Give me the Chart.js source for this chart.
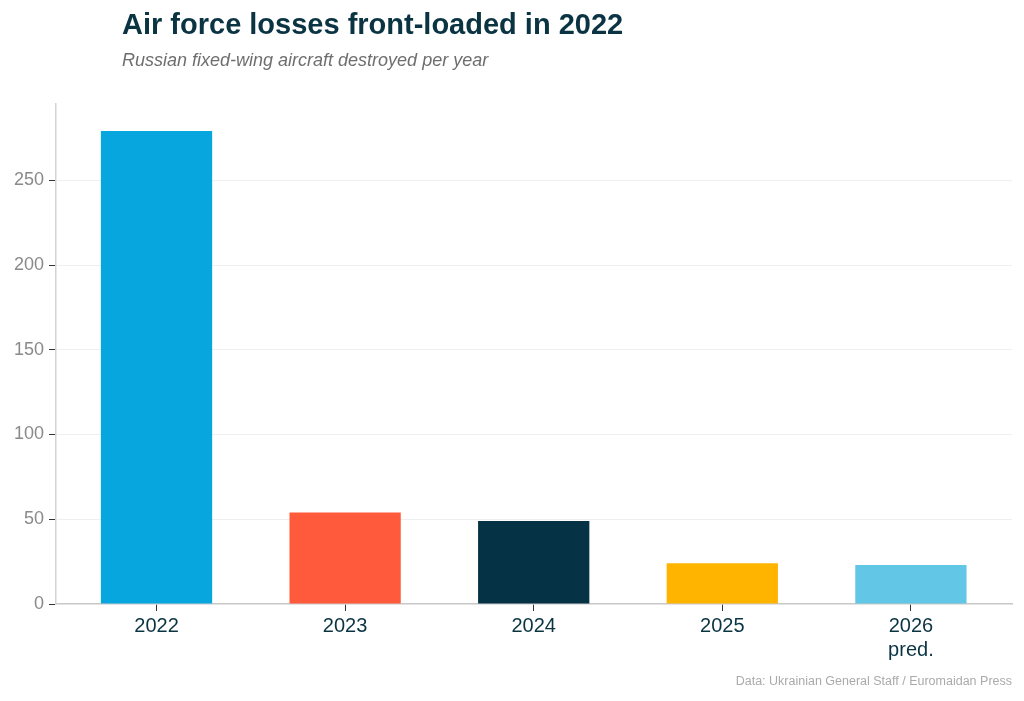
<!DOCTYPE html>
<html>
<head>
    <meta charset="utf-8">
    <title>Air force losses front-loaded in 2022</title>
    <script src="https://cdn.jsdelivr.net/npm/chart.js@4.4.1/dist/chart.umd.min.js"></script>
    <style>
        body {
            margin: 0;
            background: #fff;
            font-family: "Liberation Sans", Arial, sans-serif;
        }
        #wrap {
            position: relative;
            width: 1024px;
            height: 701px;
        }
        #title {
            position: absolute;
            left: 122px;
            top: 7px;
            font-size: 29px;
            font-weight: bold;
            color: #0b3443;
            line-height: 34px;
        }
        #subtitle {
            position: absolute;
            left: 122px;
            top: 49px;
            font-size: 18px;
            font-style: italic;
            color: #6e6e6e;
            line-height: 22px;
        }
        #source {
            position: absolute;
            right: 12px;
            top: 673px;
            font-size: 12.5px;
            color: #aaaaaa;
            line-height: 16px;
        }
        canvas {
            position: absolute;
            left: 0;
            top: 0;
        }
    </style>
</head>
<body>
<div id="wrap">
    <canvas id="myChart" width="1024" height="701"></canvas>
    <div id="title">Air force losses front-loaded in 2022</div>
    <div id="subtitle">Russian fixed-wing aircraft destroyed per year</div>
    <div id="source">Data: Ukrainian General Staff / Euromaidan Press</div>
</div>
<script>

const years = ['2022', '2023', '2024', '2025', ['2026', 'pred.']];
const destroyed = [279, 54, 49, 24, 23];
const barColors = ['#08a6df', '#ff5a3b', '#053244', '#ffb400', '#62c6e6'];
const yTicks = [0, 50, 100, 150, 200, 250];

const ctx = document.getElementById('myChart').getContext('2d');

// bars sit at 0..4 on a linear x axis, so the side margins match the original
const points = destroyed.map((v, i) => ({ x: i, y: v }));

const config = {
  type: 'bar',
  data: {
    datasets: [{
      label: 'Aircraft destroyed',
      data: points,
      backgroundColor: barColors,
      borderWidth: 0,
      categoryPercentage: 1.0,
      barPercentage: 0.59
    }]
  },
  options: {
    responsive: false,
    animation: false,
    layout: {
      padding: { top: 104, right: 12, left: 0, bottom: 0 }
    },
    plugins: {
      legend: { display: false },
      tooltip: { enabled: false }
    },
    scales: {
      x: {
        type: 'linear',
        min: -0.533,
        max: 4.536,
        offset: false,
        afterBuildTicks: function(scale) {
          scale.ticks = years.map((y, i) => ({ value: i }));
        },
        grid: {
          offset: false,
          drawOnChartArea: false,
          drawTicks: true,
          tickLength: 7,
          tickColor: '#333333'
        },
        border: { color: '#c8c8c8', width: 1.5 },
        ticks: {
          color: '#0b3443',
          font: { family: 'Liberation Sans', size: 20 },
          padding: 3,
          callback: function(value) { return years[value]; }
        },
        afterFit: function(scale) { scale.height = 97; }
      },
      y: {
        min: 0,
        max: 295,
        afterBuildTicks: function(scale) {
          scale.ticks = yTicks.map(v => ({ value: v }));
        },
        grid: {
          color: function(c) { return c.tick && c.tick.value === 0 ? 'rgba(0,0,0,0)' : '#efefef'; },
          tickColor: '#333333',
          tickLength: 7
        },
        border: { color: '#d4d4d4', width: 1.5 },
        ticks: {
          color: '#8a8a8a',
          font: { family: 'Liberation Sans', size: 18 },
          padding: 5
        },
        afterFit: function(scale) { scale.width = 56; }
      }
    }
  }
};

var myChart = new Chart(ctx, config);

</script>
</body>
</html>
